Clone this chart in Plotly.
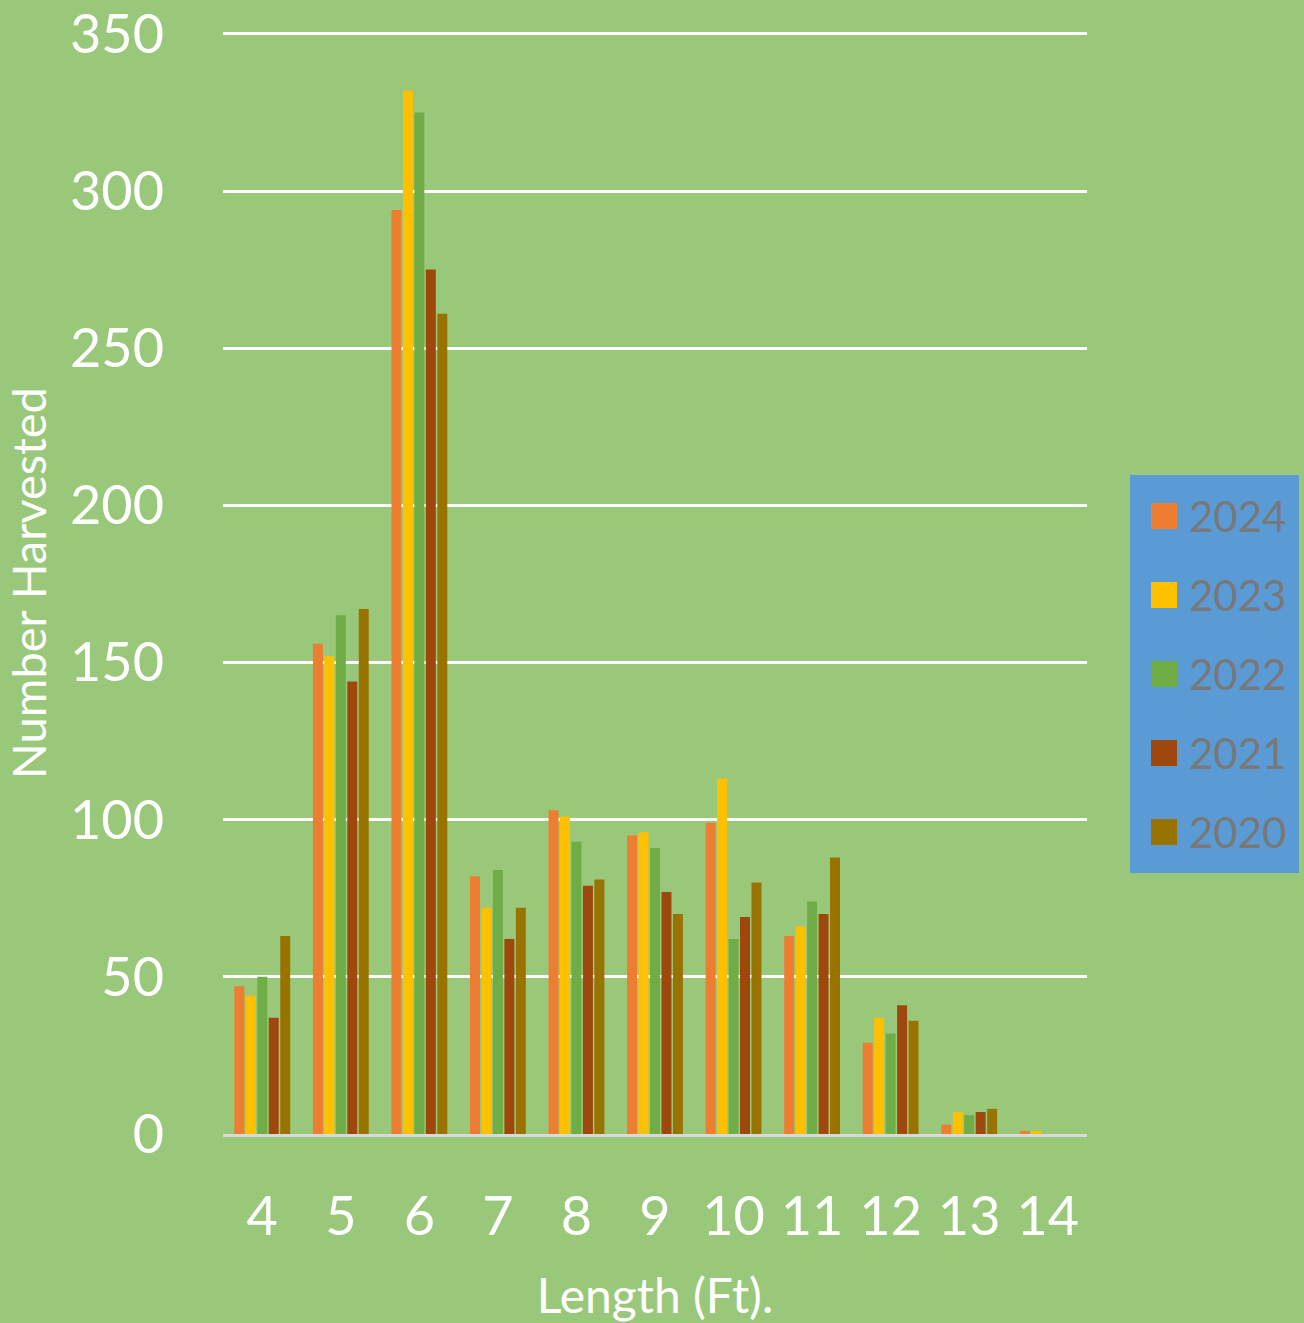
import plotly.graph_objects as go

lengths = ["4", "5", "6", "7", "8", "9", "10", "11", "12", "13", "14"]
years = ["2024", "2023", "2022", "2021", "2020"]
v2024 = [47, 156, 294, 82, 103, 95, 99, 63, 29, 3, 1]
v2023 = [44, 152, 332, 72, 101, 96, 113, 66, 37, 7, 1]
v2022 = [50, 165, 325, 84, 93, 91, 62, 74, 32, 6, 0]
v2021 = [37, 144, 275, 62, 79, 77, 69, 70, 41, 7, 0]
v2020 = [63, 167, 261, 72, 81, 70, 80, 88, 36, 8, 0]
series = [v2024, v2023, v2022, v2021, v2020]
colors = ["#ED7D31", "#FFC000", "#70AD47", "#9E480E", "#997300"]
yticks = [0, 50, 100, 150, 200, 250, 300, 350]

BG = "#9AC87A"
FONT = "Lato"

fig = go.Figure()
for name, vals, col in zip(years, series, colors):
    fig.add_trace(go.Bar(x=lengths, y=vals, name=name, marker_color=col,
                         marker_line_width=0, showlegend=False))

fig.update_layout(
    width=1304, height=1323,
    paper_bgcolor=BG, plot_bgcolor=BG,
    margin=dict(l=223, r=217, t=32, b=189, autoexpand=False),
    barmode="group", bargap=0.27, bargroupgap=0.13,
    font=dict(family=FONT, color="white"),
)
fig.update_yaxes(range=[0, 350.6], tickvals=yticks, showgrid=True, gridcolor="white",
                 gridwidth=2.5, zeroline=False, showline=False, ticks="",
                 tickfont=dict(size=54, color="white"), ticklabelstandoff=58,
                 ticklabeloverflow="allow",
                 title=dict(text="Number Harvested", font=dict(size=47, color="white"), standoff=20),
                 automargin=False)
fig.update_xaxes(showgrid=False, showline=True, linecolor="#D9D9D9", linewidth=3,
                 ticks="", tickfont=dict(size=54, color="white"), ticklabelstandoff=33,
                 title=dict(text="Length (Ft).", font=dict(size=48, color="white"), standoff=37),
                 automargin=False)

# Custom legend (box, swatches, labels) placed in paper coordinates
plot_w = 1304 - 223 - 217
plot_h = 1323 - 32 - 189
def px2x(px):
    return (px - 223) / plot_w
def py2y(py):
    return (1134 - py) / plot_h

fig.add_shape(type="rect", xref="paper", yref="paper",
              x0=px2x(1130), x1=px2x(1299), y0=py2y(873), y1=py2y(475),
              fillcolor="#5B9BD5", line_width=0, layer="below")
for i, (name, col) in enumerate(zip(years, colors)):
    cy = 516 + 79 * i
    fig.add_shape(type="rect", xref="paper", yref="paper",
                  x0=px2x(1151), x1=px2x(1177), y0=py2y(cy + 13), y1=py2y(cy - 13),
                  fillcolor=col, line_width=0)
    fig.add_annotation(xref="paper", yref="paper", x=px2x(1187), y=py2y(cy),
                       text=name, showarrow=False, xanchor="left", yanchor="middle",
                       font=dict(family=FONT, size=42, color="#787878"))

fig.write_html("out.html", config={"displayModeBar": False},
               post_script="document.body.style.margin='0';")
